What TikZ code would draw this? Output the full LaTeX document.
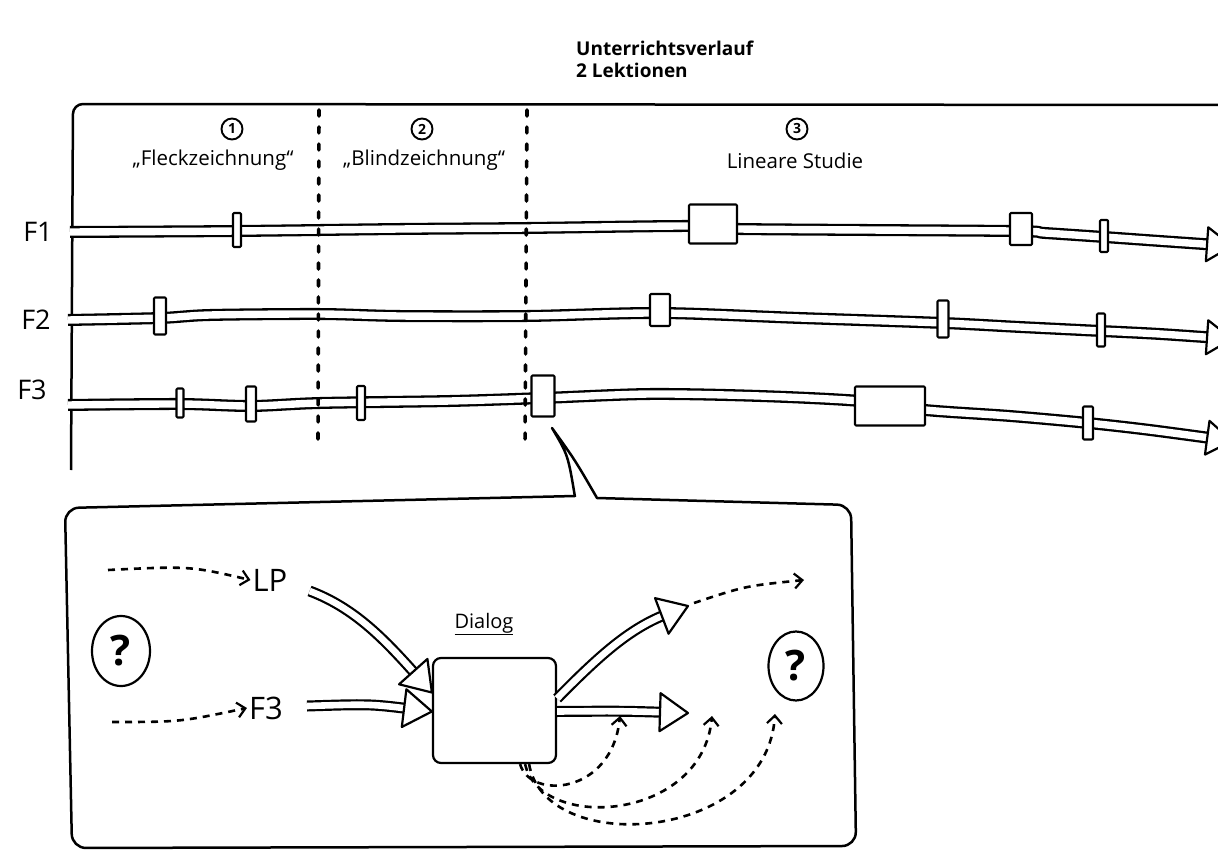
\documentclass[tikz,border=0pt]{standalone}
\usepackage{fontspec}
\setmainfont{Open Sans}
\usetikzlibrary{arrows.meta,decorations.markings,shapes.geometric,calc}
\begin{document}
\begin{tikzpicture}[x=1pt,y=-1pt,line join=round,
  fatarrow/.style n args={5}{
    preaction={draw=black,line width=#1,shorten >=#3},
    preaction={draw=white,line width=#2,shorten >=#3},
    postaction={decorate,decoration={markings,mark=at position 1 with {%
      \draw[draw=black,fill=white,line width=2.2pt,shorten >=0pt,line join=round]
        (0pt,0pt) -- (-#4,#5) -- (-#4,-#5) -- cycle;}}}},
  tube/.style={line cap=round,preaction={draw=black,line width=12pt,shorten >=16pt},
    preaction={draw=white,line width=7.4pt,shorten >=16pt}},
  tubehead/.style={draw=black,fill=white,line width=2.2pt},
  bigarrow/.style={line cap=butt,fatarrow={11pt}{6.6pt}{22pt}{28pt}{19pt}},
  tick/.style={draw,fill=white,line width=2.1pt,inner sep=0pt,rounded corners=1pt},
  divider/.style={line width=3.6pt,line cap=round,dash pattern=on 6pt off 11pt},
  dasharrow/.style={line width=2.6pt,dash pattern=on 7pt off 6pt,
    -{Straight Barb[length=8pt,width=15pt,line width=2.2pt]}},
  numcirc/.style={circle,draw,line width=1.9pt,inner sep=0pt,minimum size=21pt,
    font=\fontsize{14}{14}\selectfont\bfseries},
  lbl/.style={font=\fontsize{20.5}{20.5}\selectfont,inner sep=1pt},
  flbl/.style={font=\fontsize{27}{27}\selectfont,inner sep=1pt},
  big/.style={font=\fontsize{31}{31}\selectfont,inner sep=2pt},
  qm/.style={ellipse,draw,line width=2.2pt,inner sep=0pt,
    font=\fontsize{42}{42}\selectfont\bfseries},
  outline/.style={line width=2.5pt}
]
\path[use as bounding box] (0,0) rectangle (1218,850);
\clip (0,0) rectangle (1218,850);
\fill[white] (0,0) rectangle (1218,850);

% title
\node[anchor=west,align=left,font=\fontsize{19}{22}\selectfont\bfseries,inner sep=0pt]
  (title) at (576,59) {Unterrichtsverlauf\\2 Lektionen};

% upper frame
\draw[outline,rounded corners=10pt] (71,470) -- (73,104) -- (1230,105);

% column headings
\node[numcirc] (n1) at (232,129) {1};
\node[lbl] (h1) at (213,160) {„Fleckzeichnung“};
\node[numcirc] (n2) at (422,129) {2};
\node[lbl] (h2) at (424,160) {„Blindzeichnung“};
\node[numcirc] (n3) at (797,129) {3};
\node[lbl] (h3) at (795,161) {Lineare Studie};

% track labels
\node[flbl] (lf1) at (38,232) {F1};
\node[flbl] (lf2) at (36,320) {F2};
\node[flbl] (lf3) at (32,390) {F3};

% tracks
\path[tube] plot[smooth,tension=0.5] coordinates {(70,232) (237,231) (400,229) (527,228) (690,226) (740,229) (1010,231) (1045,233) (1104,237) (1160,241) (1232,246)};
\draw[tubehead,shift={(1232,246)},rotate=-4] (0pt,0pt) -- (-25pt,17pt) -- (-25pt,-17pt) -- cycle;
\path[tube] plot[smooth,tension=0.5] coordinates {(68,320) (160,318) (210,315) (320,314) (400,316) (527,316) (660,313) (800,318) (943,323) (1020,327) (1101,331) (1160,334) (1232,339)};
\draw[tubehead,shift={(1232,339)},rotate=-4] (0pt,0pt) -- (-25pt,17pt) -- (-25pt,-17pt) -- cycle;
\path[tube] plot[smooth,tension=0.5] coordinates {(68,405) (180,404) (251,406) (320,403) (450,401) (543,398) (650,394) (760,396) (860,401) (925,410) (1010,416) (1088,423) (1150,430) (1232,441)};
\draw[tubehead,shift={(1232,441)},rotate=-7.6] (0pt,0pt) -- (-25pt,17pt) -- (-25pt,-17pt) -- cycle;

% markers F1
\node[tick,minimum width=8pt,minimum height=34pt] (f1a) at (237,230) {};
\node[tick,minimum width=48pt,minimum height=39pt] (f1b) at (713,224) {};
\node[tick,minimum width=22pt,minimum height=32pt] (f1c) at (1021,229) {};
\node[tick,minimum width=8pt,minimum height=32pt] (f1d) at (1104,236) {};
% markers F2
\node[tick,minimum width=12pt,minimum height=37pt] (f2a) at (160,316) {};
\node[tick,minimum width=20pt,minimum height=32pt] (f2b) at (660,310) {};
\node[tick,minimum width=11pt,minimum height=37pt] (f2c) at (943,319) {};
\node[tick,minimum width=8pt,minimum height=33pt] (f2d) at (1101,330) {};
% markers F3
\node[tick,minimum width=7pt,minimum height=29pt] (f3a) at (180,403) {};
\node[tick,minimum width=10pt,minimum height=35pt] (f3b) at (251,404) {};
\node[tick,minimum width=8pt,minimum height=34pt] (f3c) at (361,403) {};
\node[tick,minimum width=23pt,minimum height=41pt] (f3d) at (543,396) {};
\node[tick,minimum width=70pt,minimum height=39pt] (f3e) at (890,406) {};
\node[tick,minimum width=10pt,minimum height=33pt] (f3f) at (1088,423) {};

% dividers
\draw[divider] (319,110) -- (318,446);
\draw[divider] (527,110) -- (525,446);

% callout box
\coordinate (ptip) at (552,428);
\draw[outline] (575,497) .. controls (568,455) .. (ptip) .. controls (575,460) .. (597,498)
  [rounded corners=14pt] -- (851,505) -- (856,846) -- (72,848) -- (65,508) -- (575,496);

% inside callout
\node[big] (lp) at (270,580) {LP};
\node[big] (f3in) at (266,708) {F3};
\node[qm,minimum width=58pt,minimum height=70pt] (q1) at (121,651) {?};
\node[qm,minimum width=55pt,minimum height=69pt] (q2) at (796,666) {?};
\node[font=\fontsize{20}{20}\selectfont,inner sep=0pt] (dlbl) at (484,624) {\underline{Dialog}};
\node[draw,line width=2.2pt,rounded corners=8pt,minimum width=123pt,minimum height=105pt] (dialog) at (494.5,710.5) {};

\coordinate (lpsrc) at (108,570);
\coordinate (f3src) at (112,722);
\draw[dasharrow] (lpsrc) .. controls (190,566) .. (lp.west);
\draw[dasharrow] (f3src) .. controls (180,722) .. (f3in.west);

% fat arrows into and out of the dialog
\path[bigarrow] ([xshift=20pt,yshift=-11pt]lp.east) .. controls (355,608) and (385,640) .. ([yshift=18pt]dialog.west);
\path[bigarrow] ([xshift=22pt,yshift=2pt]f3in.east) .. controls (370,704) .. ([yshift=-1pt]dialog.west);
\coordinate (outup) at (688,606);
\coordinate (outlow) at (688,713);
\path[bigarrow] ([yshift=12pt]dialog.east) .. controls (600,655) and (630,628) .. (outup);
\path[bigarrow] ([yshift=-1pt]dialog.east) .. controls (620,711) .. (outlow);

% dashed continuations
\coordinate (cont) at (694,603);
\coordinate (contend) at (804,580);
\draw[dasharrow] (cont) .. controls (745,586) .. (contend);
\coordinate (ea) at (620,716);
\coordinate (eb) at (712,716);
\coordinate (ec) at (775,714);
\draw[dasharrow] ([xshift=-37pt]dialog.south east) .. controls (530,800) and (612,795) .. (ea);
\draw[dasharrow] ([xshift=-32pt]dialog.south east) .. controls (540,832) and (702,822) .. (eb);
\draw[dasharrow] ([xshift=-28pt]dialog.south east) .. controls (545,858) and (767,842) .. (ec);
\end{tikzpicture}
\end{document}
